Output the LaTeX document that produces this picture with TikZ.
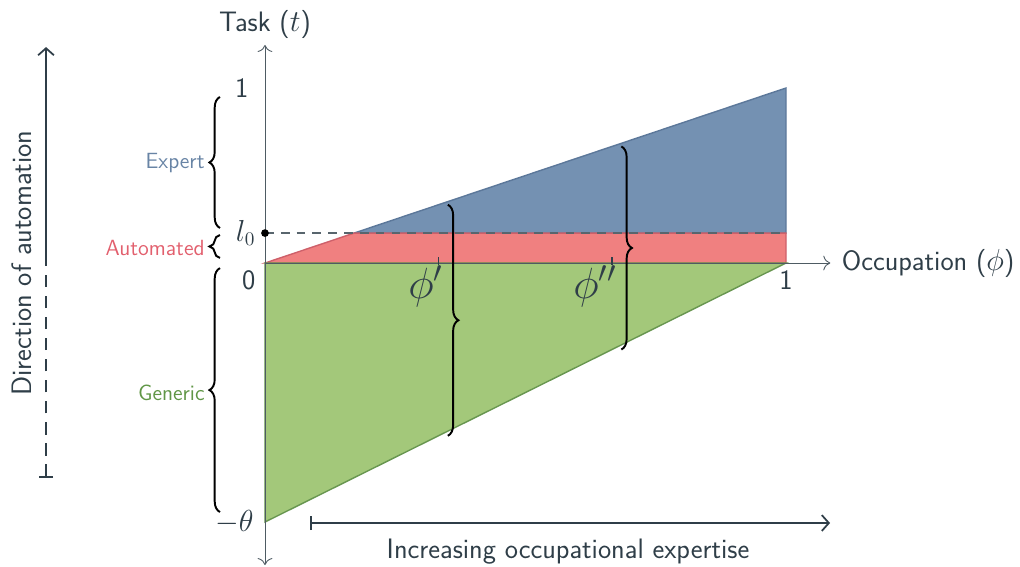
\documentclass[tikz,border=0pt]{standalone}
\usepackage{xcolor}
\usetikzlibrary{arrows.meta,positioning,decorations.pathreplacing,calc}
\renewcommand{\familydefault}{\sfdefault}

\definecolor{ink}{RGB}{47,62,72}
\definecolor{expertfill}{RGB}{116,145,178}
\definecolor{expertline}{RGB}{92,120,154}
\definecolor{autofill}{RGB}{240,128,128}
\definecolor{autoline}{RGB}{206,96,106}
\definecolor{genfill}{RGB}{163,200,122}
\definecolor{genline}{RGB}{104,150,80}
\definecolor{experttext}{RGB}{104,132,165}
\definecolor{autotext}{RGB}{226,96,110}
\definecolor{gentext}{RGB}{96,150,70}

\pgfmathsetmacro{\thetaDepth}{1.48}
\pgfmathsetmacro{\lzero}{0.171}
\pgfmathsetmacro{\phiA}{0.333}
\pgfmathsetmacro{\phiB}{0.666}
\pgfmathsetmacro{\botA}{-\thetaDepth*(1-\phiA)}
\pgfmathsetmacro{\botB}{-\thetaDepth*(1-\phiB)}

\begin{document}
\begin{tikzpicture}[
    x=10.42cm, y=3.5cm,
    font=\fontsize{16}{19}\selectfont, text=ink,
    axis/.style={draw=ink!85, line width=0.5pt},
    region/.style={line width=0.8pt},
    brc/.style={decorate, decoration={brace, amplitude=6pt}, line width=1.1pt, black},
    sidelabel/.style={font=\fontsize{12.5}{15}\selectfont, anchor=east},
    guide/.style={draw=ink, line width=1pt},
    phlabel/.style={font=\fontsize{24}{28}\selectfont, below left=-2pt and -6pt}
]
    \useasboundingbox (-0.5086,-1.7314) rectangle (1.4491,1.5029);

    % corner points of the three regions
    \coordinate (O) at (0,0);
    \coordinate (top) at (1,1);
    \coordinate (one) at (1,0);
    \coordinate (bot) at (0,-\thetaDepth);
    \coordinate (L) at (0,\lzero);
    \coordinate (Lend) at (1,\lzero);
    \coordinate (Lcut) at (\lzero,\lzero);

    \filldraw[region, fill=expertfill, draw=expertline] (Lcut) -- (top) -- (Lend) -- cycle;
    \filldraw[region, fill=autofill, draw=autoline] (O) -- (Lcut) -- (Lend) -- (one) -- cycle;
    \filldraw[region, fill=genfill, draw=genline] (O) -- (one) -- (bot) -- cycle;

    % axes
    \coordinate (ytop) at (0,1.246);
    \coordinate (ybot) at (0,-1.726);
    \coordinate (xend) at (1.085,0);
    \draw[axis, {To[length=4pt]}-{To[length=4pt]}] (ybot) -- (ytop);
    \draw[axis, -{To[length=4pt]}] (O) -- (xend);
    \node[above=0pt of ytop] (ylab) {Task ($t$)};
    \node[right=3pt of xend] (xlab) {Occupation ($\phi$)};

    \node[left=6pt] (tone) at (0,1) {1};
    \node[below left=1pt and 2pt] (tzero) at (O) {0};
    \node[left=3pt] (ttheta) at (bot) {$-\theta$};
    \node[below=1pt] (xone) at (one) {1};

    \draw[dashed, ink!80, line width=0.7pt, dash pattern=on 5pt off 4pt] (L) -- (Lend);
    \fill[black] (L) circle (2.2pt);
    \node[left=2pt] (lz) at (L) {$l_0$};

    % occupations phi' and phi''
    \draw[ink, line width=0.9pt] (\phiA,-0.01) -- (\phiA,0.035);
    \draw[ink, line width=0.9pt] (\phiB,-0.01) -- (\phiB,0.035);
    \node[phlabel] (pa) at (\phiA,0) {$\phi'$};
    \node[phlabel] (pb) at (\phiB,0) {$\phi''$};
    \draw[brc] (\phiA+0.018,\phiA) -- (\phiA+0.018,\botA);
    \draw[brc] (\phiB+0.018,\phiB) -- (\phiB+0.018,\botB);

    % task groups
    \draw[brc] (-0.0864,0.2) -- (-0.0864,0.949);
    \draw[brc] (-0.0864,0.029) -- (-0.0864,0.16);
    \draw[brc] (-0.0864,-1.423) -- (-0.0864,-0.029);
    \node[sidelabel, text=experttext] (expert) at (-0.104,0.574) {Expert};
    \node[sidelabel, text=autotext] (auto) at (-0.104,0.086) {Automated};
    \node[sidelabel, text=gentext] (generic) at (-0.104,-0.743) {Generic};

    % direction arrows
    \coordinate (dirbot) at (-0.4203,-1.2286);
    \coordinate (dirmid) at (-0.4203,0.006);
    \coordinate (dirtop) at (-0.4203,1.234);
    \draw[guide, dash pattern=on 7pt off 5pt, {Bar[width=8pt]}-] (dirbot) -- (dirmid);
    \draw[guide, -{Straight Barb[length=4pt,width=9pt]}] (dirmid) -- (dirtop);
    \node[rotate=90] (dirlab) at (-0.4664,0) {Direction of automation};

    \coordinate (expleft) at (0.0864,-1.4857);
    \coordinate (expright) at (1.0845,-1.4857);
    \draw[guide, {Bar[width=8pt]}-{Straight Barb[length=4pt,width=9pt]}] (expleft) -- (expright);
    \node (explab) at (0.5816,-1.651) {Increasing occupational expertise};
\end{tikzpicture}
\end{document}
